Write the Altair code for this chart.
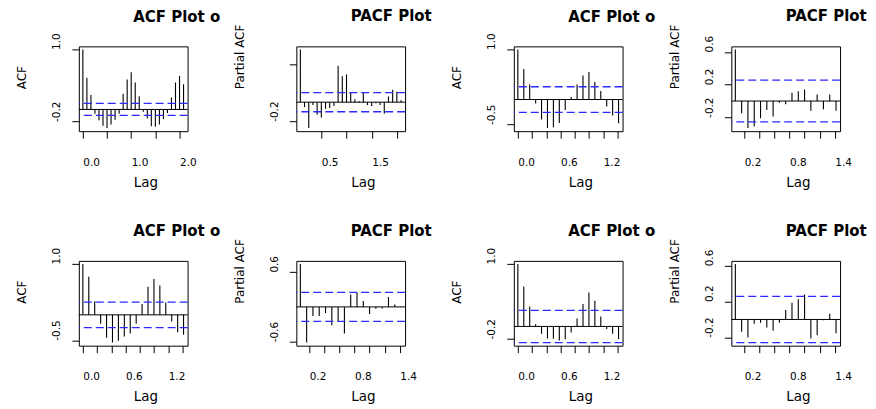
import altair as alt
import pandas as pd

FONT = "DejaVu Sans"
FREQ = 12  # monthly series: lag axis is in years

# ---------------- values ----------------
# Row 1
acf_a = [1.0, 0.53, 0.24, -0.07, -0.18, -0.27, -0.31, -0.25, -0.17, -0.07, 0.26, 0.50, 0.62,
         0.45, 0.22, -0.04, -0.15, -0.28, -0.29, -0.25, -0.16, -0.06, 0.20, 0.45, 0.56, 0.42]
pacf_a = [0.55, -0.05, -0.27, -0.03, -0.13, -0.16, -0.07, -0.06, -0.04, 0.38, 0.27, 0.29, 0.10,
          0.03, 0.01, 0.10, -0.03, -0.04, -0.01, -0.03, -0.12, 0.06, 0.13, 0.11, 0.02]
acf_b = [1.0, 0.61, 0.30, -0.08, -0.40, -0.57, -0.555, -0.47, -0.21, 0.05, 0.30, 0.48, 0.55,
         0.35, 0.17, -0.14, -0.32, -0.475]
pacf_b = [0.63, -0.15, -0.33, -0.31, -0.21, -0.11, -0.19, -0.02, -0.04, 0.10, 0.12, 0.14, -0.12,
          0.08, -0.10, 0.08, -0.12]
# Row 2
acf_c = [1.0, 0.75, 0.265, -0.175, -0.45, -0.545, -0.51, -0.425, -0.365, -0.175, 0.215, 0.555,
         0.705, 0.575, 0.245, -0.13, -0.345, -0.39]
pacf_c = [0.74, -0.615, -0.157, -0.157, -0.105, -0.317, -0.254, -0.46, 0.214, 0.243, 0.10,
          -0.122, -0.032, -0.029, 0.171, 0.04, 0.003]
acf_d = [1.0, 0.64, 0.32, 0.035, -0.118, -0.193, -0.198, -0.225, -0.205, -0.096, 0.128, 0.358,
         0.545, 0.41, 0.16, -0.043, -0.118, -0.203]
pacf_d = [0.62, -0.137, -0.203, -0.047, -0.037, -0.09, -0.127, -0.037, 0.105, 0.188, 0.225,
          0.278, -0.212, -0.176, -0.009, 0.063, -0.155]

# confidence bounds (blue dashed lines)
ci_a = 0.10
ci_b = 0.255
ci_c = 0.25
ci_d = 0.258

titles = ["ACF Plot o", "PACF Plot", "ACF Plot o", "PACF Plot",
          "ACF Plot o", "PACF Plot", "ACF Plot o", "PACF Plot"]
ytitles = ["ACF", "Partial ACF", "ACF", "Partial ACF",
           "ACF", "Partial ACF", "ACF", "Partial ACF"]

# tick values and the labels R kept
xt_a_acf = [0.0, 0.5, 1.0, 1.5, 2.0]
xl_a_acf = [0.0, 1.0, 2.0]
xt_a_pacf = [0.5, 1.0, 1.5, 2.0]
xl_a_pacf = [0.5, 1.5]
xt_acf = [0.0, 0.2, 0.4, 0.6, 0.8, 1.0, 1.2, 1.4]
xl_acf = [0.0, 0.6, 1.2]
xt_pacf = [0.2, 0.4, 0.6, 0.8, 1.0, 1.2, 1.4]
xl_pacf = [0.2, 0.8, 1.4]

yt_1 = [-0.2, 0.0, 0.2, 0.4, 0.6, 0.8, 1.0]
yl_1 = [1.0, 0.4, -0.2]
yt_2 = [-0.2, 0.0, 0.2, 0.4]
yl_2 = [0.2, -0.2]
yt_3 = [-0.5, 0.0, 0.5, 1.0]
yl_3 = [1.0, 0.5, -0.5]
yt_4 = [-0.2, 0.0, 0.2, 0.4, 0.6]
yl_4 = [0.6, 0.2, -0.2]
yt_6 = [-0.6, -0.4, -0.2, 0.0, 0.2, 0.4, 0.6]
yl_6 = [0.6, 0.0, -0.6]

W, H = 109, 85


def expand(lo, hi):
    d = (hi - lo) * 0.04
    return [lo - d, hi + d]


def label_expr(labels):
    arr = ",".join(repr(float(v)) for v in labels)
    return ("indexof([" + arr + "], datum.value) >= 0 ? "
            "(datum.value < 0 ? '-' + format(-datum.value, '.1f') : format(datum.value, '.1f')) : ''")


def panel(vals, first_lag, ci, title, ytitle, xticks, xlabels, yticks, ylabels):
    lags = [(first_lag + i) / FREQ for i in range(len(vals))]
    df = pd.DataFrame({"lag": lags, "value": vals})
    xdom = expand(min(lags), max(lags))
    ydom = expand(min(min(vals), -ci), max(max(vals), ci))
    xs = alt.Scale(domain=xdom, nice=False, zero=False)
    ys = alt.Scale(domain=ydom, nice=False, zero=False)

    xaxis = alt.Axis(
        values=xticks, labelExpr=label_expr(xlabels), title="Lag", grid=False, domain=False,
        ticks=True, tickSize=7, tickColor="black", tickWidth=1,
        labelFont=FONT, labelFontSize=10.5, labelColor="black", labelAlign="left",
        labelBaseline="alphabetic", labelPadding=27, labelOverlap=False, labelFlush=False,
        labelAngle=0,
        titleFont=FONT, titleFontSize=13.5, titleFontWeight="normal", titleColor="black",
        titleAlign="left", titleBaseline="alphabetic", titleX=W / 2, titleY=55, titleAngle=0)
    yaxis = alt.Axis(
        values=yticks, labelExpr=label_expr(ylabels), title=ytitle, grid=False, domain=False,
        ticks=True, tickSize=7, tickColor="black", tickWidth=1,
        labelFont=FONT, labelFontSize=10.5, labelColor="black", labelAngle=270,
        labelAlign="left", labelBaseline="alphabetic", labelPadding=12, labelOverlap=False,
        labelFlush=False,
        titleFont=FONT, titleFontSize=12, titleFontWeight="normal", titleColor="black",
        titleAngle=270, titleAlign="left", titleBaseline="alphabetic", titleX=-53, titleY=H / 2)

    bars = alt.Chart(df).mark_rule(color="black", strokeWidth=1.1).encode(
        x=alt.X("lag:Q", scale=xs, axis=xaxis),
        y=alt.Y("value:Q", scale=ys, axis=yaxis),
        y2=alt.datum(0),
    )
    zero = alt.Chart(pd.DataFrame({"value": [0.0]})).mark_rule(
        color="black", strokeWidth=1).encode(y=alt.Y("value:Q", scale=ys))
    cis = alt.Chart(pd.DataFrame({"value": [ci, -ci]})).mark_rule(
        color="#2a2aff", strokeWidth=1.3, strokeDash=[8, 4]).encode(y=alt.Y("value:Q", scale=ys))

    # Vega pushes a top title above the axis extents; pull it back down so that
    # its baseline sits 25.5 px above the plot frame, as in the reference.
    dy = 37.5 if ytitle == "Partial ACF" else 29.5
    return alt.layer(bars, zero, cis).properties(
        width=W, height=H,
        title=alt.TitleParams(
            text=title, anchor="middle", align="left", baseline="alphabetic", offset=25.5,
            dy=dy, frame="group", font=FONT, fontSize=15, fontWeight="bold", color="black"),
    )


panels = [
    panel(acf_a, 0, ci_a, titles[0], ytitles[0], xt_a_acf, xl_a_acf, yt_1, yl_1),
    panel(pacf_a, 1, ci_a, titles[1], ytitles[1], xt_a_pacf, xl_a_pacf, yt_2, yl_2),
    panel(acf_b, 0, ci_b, titles[2], ytitles[2], xt_acf, xl_acf, yt_3, yl_3),
    panel(pacf_b, 1, ci_b, titles[3], ytitles[3], xt_pacf, xl_pacf, yt_4, yl_4),
    panel(acf_c, 0, ci_c, titles[4], ytitles[4], xt_acf, xl_acf, yt_3, yl_3),
    panel(pacf_c, 1, ci_c, titles[5], ytitles[5], xt_pacf, xl_pacf, yt_6, yl_6),
    panel(acf_d, 0, ci_d, titles[6], ytitles[6], xt_acf, xl_acf, yt_1, yl_1),
    panel(pacf_d, 1, ci_d, titles[7], ytitles[7], xt_pacf, xl_pacf, yt_4, yl_4),
]

chart = alt.concat(*panels, columns=4, spacing={"row": 130, "column": 109},
                   bounds="flush").properties(
    padding={"left": 7, "top": 0, "right": 0, "bottom": 0},
    background="white",
).configure_view(stroke="black", strokeWidth=1)

chart.save("out.html", embed_options={"renderer": "svg", "actions": False})
